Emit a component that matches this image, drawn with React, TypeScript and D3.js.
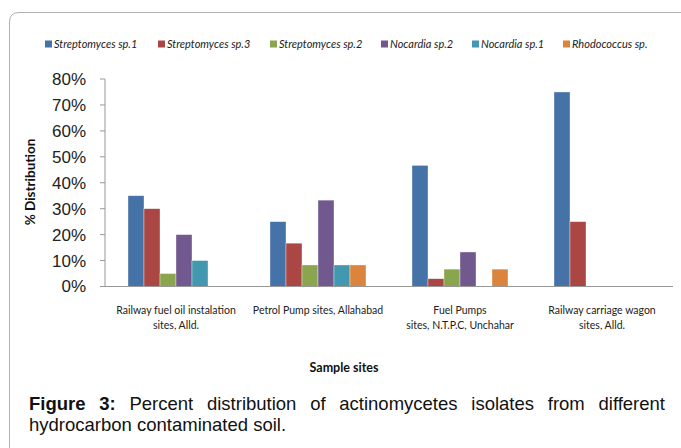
import * as d3 from "d3";

const categories = [
  ["Railway fuel oil instalation", "sites, Alld."],
  ["Petrol Pump sites, Allahabad"],
  ["Fuel Pumps", "sites, N.T.P.C, Unchahar"],
  ["Railway carriage wagon", "sites, Alld."],
];
const seriesNames = [
  "Streptomyces sp.1",
  "Streptomyces sp.3",
  "Streptomyces sp.2",
  "Nocardia sp.2",
  "Nocardia sp.1",
  "Rhodococcus sp.",
];
const strep1 = [35, 25, 46.7, 75];
const strep3 = [30, 16.7, 3, 25];
const strep2 = [5, 8.3, 6.7, 0];
const nocardia2 = [20, 33.3, 13.3, 0];
const nocardia1 = [10, 8.3, 0, 0];
const rhodococcus = [0, 8.3, 6.7, 0];
const yTicks = [0, 10, 20, 30, 40, 50, 60, 70, 80];
const colors = ["#4572A7", "#AA4643", "#89A54E", "#71588F", "#4198AF", "#DB843D"];

const captionBold = ["Figure", "3:"];
const captionLine1 = ["Percent", "distribution", "of", "actinomycetes", "isolates", "from", "different"];
const captionLine2 = "hydrocarbon contaminated soil.";

const measure = (text: string, font: string) => {
  const ctx = document.createElement("canvas").getContext("2d")!;
  ctx.font = font;
  return ctx.measureText(text).width;
};

const App = () => {
  const width = 681;
  const height = 448;
  const values = [strep1, strep3, strep2, nocardia2, nocardia1, rhodococcus];
  const keys = categories.map((c) => c.join(" "));

  const x0 = d3
    .scaleBand()
    .domain(keys)
    .range([105, 673])
    .paddingInner(0.324)
    .paddingOuter(0.162);
  const x1 = d3
    .scaleBand()
    .domain(seriesNames)
    .range([0, x0.bandwidth()]);
  const y = d3.scaleLinear().domain([0, 80]).range([286.5, 79]);

  const legendX = [45, 158, 270, 381, 472, 563];

  // caption, justified first line
  const capFont = "18.5px 'Liberation Sans', Arial, sans-serif";
  const capBoldFont = "bold 18.5px 'Liberation Sans', Arial, sans-serif";
  const words = [
    ...captionBold.map((t) => ({ t, bold: true })),
    ...captionLine1.map((t) => ({ t, bold: false })),
  ];
  const widths = words.map((w) => measure(w.t, w.bold ? capBoldFont : capFont));
  const capLeft = 29;
  const capRight = 665;
  const gap = (capRight - capLeft - d3.sum(widths)) / (words.length - 1);
  let cx = capLeft;
  const wordX = widths.map((w) => {
    const p = cx;
    cx += w + gap;
    return p;
  });

  return (
    <svg
      width={width}
      height={height}
      style={{ position: "absolute", left: 0, top: 0, background: "#fff" }}
    >
      <path
        d={`M9.5,${height} L9.5,22 Q9.5,12.5 19,12.5 L${width},12.5`}
        fill="none"
        stroke="#b0b0b0"
        strokeWidth={1}
      />

      {/* legend */}
      {seriesNames.map((s, i) => (
        <g key={s} transform={`translate(${legendX[i]},44)`}>
          <rect x={0} y={-3.5} width={7} height={7} fill={colors[i]} />
          <text
            x={9}
            dy="0.35em"
            fontFamily="Lato, sans-serif"
            fontStyle="italic"
            fontSize={11}
            fill="#222"
          >
            {s}
          </text>
        </g>
      ))}

      {/* y axis */}
      <line x1={105} x2={105} y1={y(80)} y2={y(0)} stroke="#999" />
      {yTicks.map((t) => (
        <g key={t}>
          <line x1={100} x2={105} y1={y(t)} y2={y(t)} stroke="#999" />
          <text
            x={86}
            y={y(t)}
            dy="0.35em"
            textAnchor="end"
            fontFamily="'Liberation Sans', Arial, sans-serif"
            fontSize={17}
            fill="#222"
          >
            {t}%
          </text>
        </g>
      ))}
      <text
        transform={`translate(30,182) rotate(-90)`}
        textAnchor="middle"
        dy="0.35em"
        fontFamily="Lato, sans-serif"
        fontWeight="bold"
        fontSize={13.5}
        fill="#111"
      >
        % Distribution
      </text>

      {/* bars */}
      {keys.map((k, ci) => (
        <g key={k} transform={`translate(${x0(k)},0)`}>
          {seriesNames.map((s, si) =>
            values[si][ci] > 0 ? (
              <rect
                key={s}
                x={x1(s)}
                y={y(values[si][ci])}
                width={x1.bandwidth()}
                height={y(0) - y(values[si][ci])}
                fill={colors[si]}
                stroke="#fff"
                strokeOpacity={0.6}
                strokeWidth={0.6}
              />
            ) : null
          )}
        </g>
      ))}
      <line x1={105} x2={673} y1={y(0)} y2={y(0)} stroke="#999" strokeWidth={1.2} />

      {/* category labels */}
      {categories.map((lines, ci) => (
        <text
          key={ci}
          x={x0(keys[ci])! + x0.bandwidth() / 2}
          y={310}
          textAnchor="middle"
          fontFamily="Lato, sans-serif"
          fontSize={10.5}
          fill="#222"
        >
          {lines.map((l, li) => (
            <tspan key={li} x={x0(keys[ci])! + x0.bandwidth() / 2} y={310 + li * 15} dy="0.35em">
              {l}
            </tspan>
          ))}
        </text>
      ))}
      <text
        x={344}
        y={368}
        dy="0.35em"
        textAnchor="middle"
        fontFamily="Lato, sans-serif"
        fontWeight="bold"
        fontSize={12.5}
        fill="#111"
      >
        Sample sites
      </text>

      {/* caption */}
      {words.map((w, i) => (
        <text
          key={i}
          x={wordX[i]}
          y={410}
          fontFamily="'Liberation Sans', Arial, sans-serif"
          fontWeight={w.bold ? "bold" : "normal"}
          fontSize={18.5}
          fill="#111"
        >
          {w.t}
        </text>
      ))}
      <text
        x={capLeft}
        y={431}
        fontFamily="'Liberation Sans', Arial, sans-serif"
        fontSize={18.5}
        fill="#111"
      >
        {captionLine2}
      </text>
    </svg>
  );
};

export default App;
